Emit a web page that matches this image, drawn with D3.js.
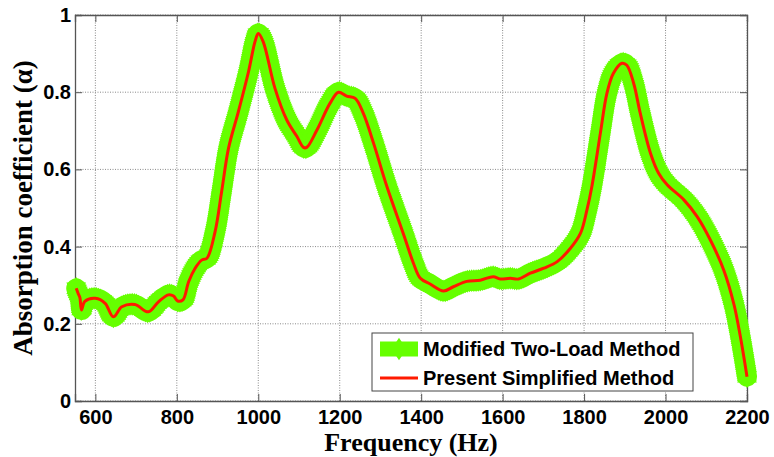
<!DOCTYPE html>
<html>
<head>
<meta charset="utf-8">
<script src="https://cdn.jsdelivr.net/npm/d3@7"></script>
<style>
  html, body { margin: 0; padding: 0; background: #fff; }
  svg { display: block; }
</style>
</head>
<body>
<svg id="chart" width="774" height="457"></svg>
<script>
// Absorption coefficient versus frequency, two measurement methods
const frequency = [553, 558, 562, 566, 574, 600, 624, 644, 665, 697, 730, 755, 779, 792, 802, 815,
  829, 845, 861, 874, 894, 910, 927, 951, 976, 992, 1000, 1012, 1041, 1070, 1095, 1111, 1119,
  1144, 1176, 1197, 1217, 1238, 1258, 1283, 1316, 1356, 1381, 1398, 1422, 1455, 1479, 1512,
  1545, 1577, 1594, 1619, 1639, 1668, 1701, 1734, 1766, 1791, 1807, 1819, 1840, 1856, 1872,
  1893, 1905, 1922, 1938, 1963, 1983, 2004, 2045, 2078, 2110, 2143, 2168, 2184, 2200];

const modifiedAlpha = [0.292, 0.278, 0.268, 0.236, 0.258, 0.266, 0.253, 0.218, 0.244, 0.250, 0.231,
  0.257, 0.275, 0.272, 0.259, 0.262, 0.309, 0.344, 0.365, 0.370, 0.439, 0.542, 0.655, 0.749,
  0.853, 0.931, 0.952, 0.931, 0.810, 0.728, 0.685, 0.657, 0.657, 0.702, 0.771, 0.800, 0.790,
  0.784, 0.745, 0.668, 0.555, 0.434, 0.357, 0.318, 0.303, 0.285, 0.296, 0.310, 0.313, 0.322,
  0.316, 0.318, 0.316, 0.331, 0.344, 0.361, 0.395, 0.434, 0.495, 0.555, 0.694, 0.797, 0.849,
  0.875, 0.870, 0.822, 0.745, 0.642, 0.590, 0.560, 0.521, 0.477, 0.417, 0.339, 0.250, 0.165, 0.063];

const presentAlpha = [0.292, 0.278, 0.268, 0.236, 0.258, 0.266, 0.253, 0.218, 0.244, 0.250, 0.231,
  0.257, 0.275, 0.272, 0.259, 0.262, 0.309, 0.344, 0.365, 0.370, 0.439, 0.542, 0.655, 0.749,
  0.853, 0.931, 0.952, 0.931, 0.810, 0.728, 0.685, 0.657, 0.657, 0.702, 0.771, 0.800, 0.790,
  0.784, 0.745, 0.668, 0.555, 0.434, 0.357, 0.318, 0.303, 0.285, 0.296, 0.310, 0.313, 0.322,
  0.316, 0.318, 0.316, 0.331, 0.344, 0.361, 0.395, 0.434, 0.495, 0.555, 0.694, 0.797, 0.849,
  0.875, 0.870, 0.822, 0.745, 0.642, 0.590, 0.560, 0.521, 0.477, 0.417, 0.339, 0.250, 0.165, 0.063];

const xTicks = [600, 800, 1000, 1200, 1400, 1600, 1800, 2000, 2200];
const yTicks = [0, 0.2, 0.4, 0.6, 0.8, 1];
const yTickLabels = ["0", "0.2", "0.4", "0.6", "0.8", "1"];
const seriesNames = ["Modified Two-Load Method", "Present Simplified Method"];

const GREEN = "#66ff00";
const RED = "#ff1a00";
const AXIS = "#555";

const svg = d3.select("#chart");
const plot = { left: 75, right: 747, top: 15, bottom: 401 };

const x = d3.scaleLinear().domain([550, 2200]).range([plot.left, plot.right]);
const y = d3.scaleLinear().domain([0, 1]).range([plot.bottom, plot.top]);

// dotted grid
const grid = svg.append("g");
grid.selectAll("line.gx").data(xTicks).join("line")
  .attr("x1", d => x(d)).attr("x2", d => x(d))
  .attr("y1", plot.top).attr("y2", plot.bottom)
  .attr("stroke", "#8a8a8a").attr("stroke-width", 1).attr("stroke-dasharray", "1,1.5");
grid.selectAll("line.gy").data(yTicks).join("line")
  .attr("x1", plot.left).attr("x2", plot.right)
  .attr("y1", d => y(d)).attr("y2", d => y(d))
  .attr("stroke", "#8a8a8a").attr("stroke-width", 1).attr("stroke-dasharray", "1,1.5");

// axes (ticks drawn inward, box on all four sides)
const tickLen = 7;
const xAxisB = d3.axisBottom(x).tickValues(xTicks).tickSize(-tickLen).tickPadding(9).tickFormat(d3.format("d"));
const xAxisT = d3.axisTop(x).tickValues(xTicks).tickSize(-tickLen).tickFormat("");
const yAxisL = d3.axisLeft(y).tickValues(yTicks).tickSize(-tickLen).tickPadding(4).tickFormat((d, i) => yTickLabels[i]);
const yAxisR = d3.axisRight(y).tickValues(yTicks).tickSize(-tickLen).tickFormat("");

function styleAxis(g) {
  g.select(".domain").attr("stroke", AXIS).attr("stroke-width", 1.3);
  g.selectAll(".tick line").attr("stroke", AXIS).attr("stroke-width", 1);
  g.selectAll(".tick text")
    .attr("fill", "#000")
    .style("font-family", "'Liberation Sans', Arial, sans-serif")
    .style("font-weight", "bold")
    .style("font-size", "20px");
}

svg.append("g").attr("transform", `translate(0,${plot.bottom})`).call(xAxisB).call(styleAxis);
svg.append("g").attr("transform", `translate(0,${plot.top})`).call(xAxisT).call(styleAxis);
svg.append("g").attr("transform", `translate(${plot.left},0)`).call(yAxisL).call(styleAxis);
svg.append("g").attr("transform", `translate(${plot.right},0)`).call(yAxisR).call(styleAxis);

// six-pointed star marker
const hexagram = {
  draw(context, size) {
    const r = Math.sqrt(size);
    const ri = r * 0.62;
    for (let i = 0; i < 12; i++) {
      const a = -Math.PI / 2 + i * Math.PI / 6;
      const rr = i % 2 === 0 ? r : ri;
      const px = rr * Math.cos(a), py = rr * Math.sin(a);
      if (i === 0) context.moveTo(px, py); else context.lineTo(px, py);
    }
    context.closePath();
  }
};

const line = d3.line().curve(d3.curveCatmullRom.alpha(0.5));
const modPts = frequency.map((f, i) => [x(f), y(modifiedAlpha[i])]);
const prePts = frequency.map((f, i) => [x(f), y(presentAlpha[i])]);

const series = svg.append("g");

// thick green band of star markers
const modPath = series.append("path")
  .attr("d", line(modPts))
  .attr("fill", "none").attr("stroke", GREEN)
  .attr("stroke-width", 20).attr("stroke-linejoin", "round").attr("stroke-linecap", "round");

const node = modPath.node();
const total = node.getTotalLength();
const stepPts = d3.range(0, total, 2.2).concat([total]).map(l => node.getPointAtLength(l));
series.append("g").selectAll("path").data(stepPts).join("path")
  .attr("transform", p => `translate(${p.x},${p.y})`)
  .attr("d", d3.symbol().type(hexagram).size(130))
  .attr("fill", GREEN);

// red line
series.append("path")
  .attr("d", line(prePts))
  .attr("fill", "none").attr("stroke", RED)
  .attr("stroke-width", 3).attr("stroke-linejoin", "round");

// legend
const lg = svg.append("g");
const lx = 372, ly = 333, lw = 321, lh = 58;
lg.append("rect").attr("x", lx).attr("y", ly).attr("width", lw).attr("height", lh)
  .attr("fill", "#fff").attr("stroke", "#444").attr("stroke-width", 1);

const row1 = ly + 16, row2 = ly + 45;
lg.append("line").attr("x1", lx + 8).attr("x2", lx + 46).attr("y1", row1).attr("y2", row1)
  .attr("stroke", GREEN).attr("stroke-width", 15);
lg.append("path").attr("transform", `translate(${lx + 27},${row1})`)
  .attr("d", d3.symbol().type(hexagram).size(125)).attr("fill", GREEN);
lg.append("line").attr("x1", lx + 8).attr("x2", lx + 46).attr("y1", row2).attr("y2", row2)
  .attr("stroke", RED).attr("stroke-width", 3);

lg.selectAll("text").data(seriesNames).join("text")
  .attr("x", lx + 51)
  .attr("y", (d, i) => (i === 0 ? row1 : row2) + 7)
  .text(d => d)
  .style("font-family", "'Liberation Sans', Arial, sans-serif")
  .style("font-weight", "bold")
  .style("font-size", "20px")
  .attr("fill", "#000");

// axis titles
svg.append("text")
  .attr("x", (plot.left + plot.right) / 2).attr("y", 451)
  .attr("text-anchor", "middle")
  .style("font-family", "'Liberation Serif', 'Times New Roman', serif")
  .style("font-weight", "bold").style("font-size", "26px")
  .text("Frequency (Hz)");

svg.append("text")
  .attr("transform", `translate(32,${(plot.top + plot.bottom) / 2}) rotate(-90)`)
  .attr("text-anchor", "middle")
  .style("font-family", "'Liberation Serif', 'Times New Roman', serif")
  .style("font-weight", "bold").style("font-size", "27px")
  .text("Absorption coefficient (α)");
</script>
</body>
</html>
